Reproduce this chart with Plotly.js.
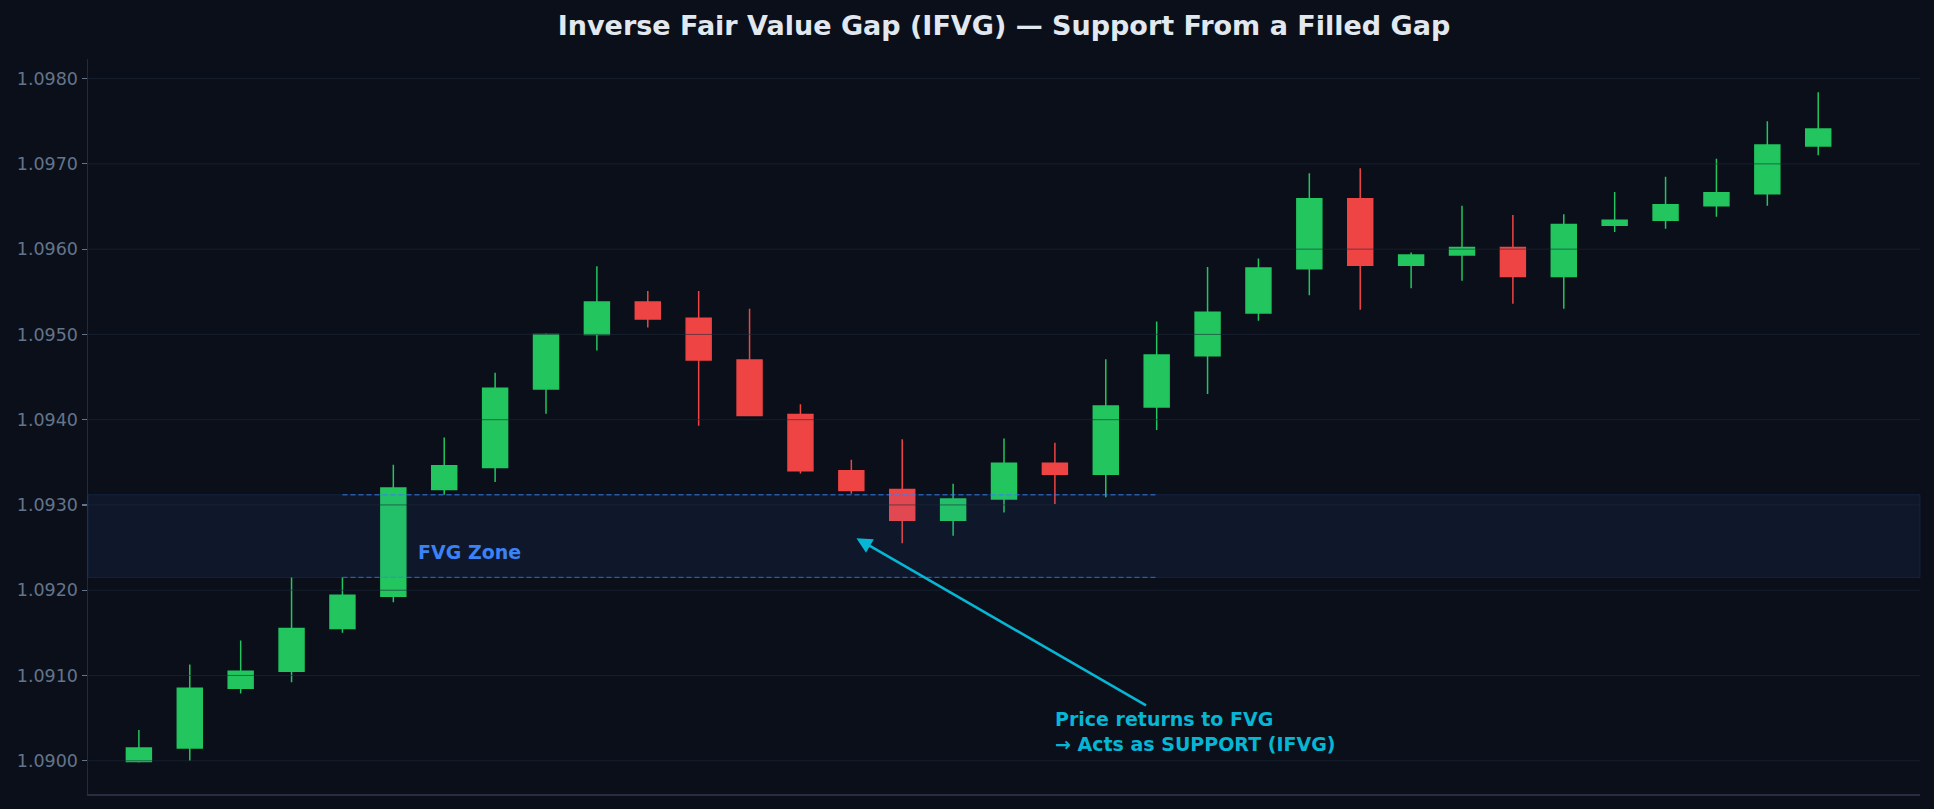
<!DOCTYPE html>
<html>
<head>
<meta charset="utf-8">
<script src="https://cdn.plot.ly/plotly-3.0.1.min.js"></script>
<style>
  html, body { margin: 0; padding: 0; background: #0b0f19; }
  #chart { width: 1934px; height: 809px; }
</style>
</head>
<body>
<div id="chart"></div>
<script>
// candle data (index 0..33)
var bars = [];
for (var i = 0; i < 34; i++) bars.push(i);

var opens = [1.08999, 1.09015, 1.09085, 1.09105, 1.09155, 1.09193, 1.09318, 1.09344, 1.09436, 1.09500,
             1.09538, 1.09519, 1.09470, 1.09406, 1.09340, 1.09318, 1.09282, 1.09307, 1.09349, 1.09336,
             1.09415, 1.09475, 1.09525, 1.09577, 1.09659, 1.09581, 1.09593, 1.09602, 1.09568, 1.09628,
             1.09634, 1.09651, 1.09665, 1.09721];
var highs = [1.09036, 1.09113, 1.09141, 1.09215, 1.09215, 1.09347, 1.09379, 1.09455, 1.09501, 1.09580,
             1.09551, 1.09551, 1.09530, 1.09418, 1.09353, 1.09377, 1.09325, 1.09378, 1.09373, 1.09471,
             1.09515, 1.09579, 1.09589, 1.09689, 1.09695, 1.09596, 1.09651, 1.09640, 1.09641, 1.09667,
             1.09685, 1.09706, 1.09750, 1.09784];
var lows = [1.08998, 1.09000, 1.09079, 1.09092, 1.09150, 1.09186, 1.09312, 1.09327, 1.09407, 1.09481,
            1.09508, 1.09393, 1.09404, 1.09337, 1.09313, 1.09255, 1.09264, 1.09291, 1.09301, 1.09309,
            1.09388, 1.09430, 1.09516, 1.09546, 1.09529, 1.09554, 1.09563, 1.09536, 1.09530, 1.09620,
            1.09624, 1.09638, 1.09651, 1.09710];
var closes = [1.09015, 1.09085, 1.09105, 1.09155, 1.09194, 1.09320, 1.09346, 1.09437, 1.09500, 1.09538,
              1.09518, 1.09470, 1.09405, 1.09340, 1.09317, 1.09282, 1.09307, 1.09349, 1.09336, 1.09416,
              1.09476, 1.09526, 1.09578, 1.09659, 1.09581, 1.09593, 1.09602, 1.09568, 1.09629, 1.09634,
              1.09652, 1.09666, 1.09722, 1.09741];

// fvg zone: high of bar 4 to low of bar 6, marked until bar 20
var fvgBottom = 1.09215;
var fvgTop = 1.09312;
var fvgStart = 4;
var fvgEnd = 20;

// annotation anchors
var arrowTip = [14.1, 1.09261];
var arrowTail = [19.82, 1.09064];
var noteAt = [17.97, 1.09034];
var zoneLabelAt = [5.45, 1.09245];

var yTicks = [1.0900, 1.0910, 1.0920, 1.0930, 1.0940, 1.0950, 1.0960, 1.0970, 1.0980];

var green = '#22c55e';
var red = '#ef4444';
var blue = '#3b82f6';
var cyan = '#06b6d4';
var font = 'DejaVu Sans, sans-serif';

var candles = {
  type: 'candlestick',
  x: bars,
  open: opens,
  high: highs,
  low: lows,
  close: closes,
  increasing: {line: {color: green, width: 1.5}, fillcolor: green},
  decreasing: {line: {color: red, width: 1.5}, fillcolor: red},
  whiskerwidth: 0,
  hoverinfo: 'skip',
  showlegend: false
};

var shapes = [
  // zone band, drawn over the candles like the original
  {type: 'rect', xref: 'paper', yref: 'y', x0: 0, x1: 1, y0: fvgBottom, y1: fvgTop,
   fillcolor: 'rgba(59,130,246,0.08)', line: {color: 'rgba(59,130,246,0.15)', width: 1}, layer: 'above'},
  {type: 'line', xref: 'x', yref: 'y', x0: fvgStart, x1: fvgEnd, y0: fvgTop, y1: fvgTop,
   line: {color: 'rgba(59,130,246,0.6)', width: 1.4, dash: '5px,3px'}, layer: 'above'},
  {type: 'line', xref: 'x', yref: 'y', x0: fvgStart, x1: fvgEnd, y0: fvgBottom, y1: fvgBottom,
   line: {color: 'rgba(59,130,246,0.6)', width: 1.4, dash: '5px,3px'}, layer: 'above'}
];

// grid goes on top of the bodies
yTicks.forEach(function(v) {
  shapes.push({type: 'line', xref: 'paper', yref: 'y', x0: 0, x1: 1, y0: v, y1: v,
               line: {color: 'rgba(30,41,59,0.6)', width: 1}, layer: 'above'});
});

var layout = {
  width: 1934,
  height: 809,
  paper_bgcolor: '#0b0f19',
  plot_bgcolor: '#0b0f19',
  margin: {l: 88, r: 14, t: 59, b: 15},
  font: {family: font, color: '#64748b'},
  title: {
    text: '<b>Inverse Fair Value Gap (IFVG) — Support From a Filled Gap</b>',
    font: {family: font, size: 27, color: '#e2e8f0'},
    xref: 'paper', x: 0.5, xanchor: 'center',
    yref: 'container', y: 0.969, yanchor: 'middle'
  },
  xaxis: {
    range: [-1, 35],
    rangeslider: {visible: false},
    showticklabels: false,
    ticks: '',
    showgrid: false,
    zeroline: false,
    showline: true,
    linecolor: '#262e40',
    linewidth: 1.5
  },
  yaxis: {
    range: [1.08961, 1.09823],
    tickvals: yTicks,
    tickformat: '.4f',
    tickfont: {family: font, size: 17.5, color: '#64748b'},
    ticks: 'outside',
    ticklen: 5,
    tickwidth: 1.2,
    tickcolor: '#64748b',
    showgrid: false,
    zeroline: false,
    showline: true,
    linecolor: '#222b3d',
    linewidth: 1.5
  },
  shapes: shapes,
  annotations: [
    {x: zoneLabelAt[0], y: zoneLabelAt[1], xref: 'x', yref: 'y', xanchor: 'left', yanchor: 'middle',
     text: '<b>FVG Zone</b>', showarrow: false, font: {family: font, size: 19, color: blue}},
    {x: arrowTip[0], y: arrowTip[1], ax: arrowTail[0], ay: arrowTail[1], xref: 'x', yref: 'y',
     axref: 'x', ayref: 'y', text: '', showarrow: true, arrowhead: 2, arrowsize: 1.2,
     arrowwidth: 2.6, arrowcolor: cyan, standoff: 0},
    {x: noteAt[0], y: noteAt[1], xref: 'x', yref: 'y', xanchor: 'left', yanchor: 'middle', align: 'left',
     text: '<b>Price returns to FVG<br>→ Acts as SUPPORT (IFVG)</b>', showarrow: false,
     font: {family: font, size: 19, color: cyan}}
  ],
  hovermode: false,
  showlegend: false
};

Plotly.newPlot('chart', [candles], layout, {displayModeBar: false, staticPlot: true});
</script>
</body>
</html>
